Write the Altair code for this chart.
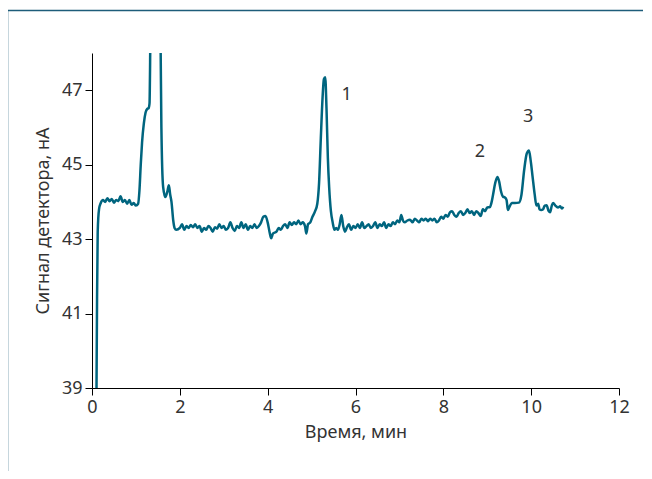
import altair as alt
import pandas as pd

# Chromatogram trace: time (min) and detector signal (nA)
time_min = [
    0.10, 0.115, 0.13, 0.16, 0.20, 0.25, 0.30, 0.35, 0.40, 0.45, 0.50, 0.55, 0.60, 0.65, 0.70,
    0.75, 0.80, 0.85, 0.90, 0.95, 1.00, 1.05, 1.08, 1.11, 1.14, 1.18, 1.22, 1.26, 1.29, 1.31,
    1.33, 1.36, 1.45, 1.53, 1.56, 1.58, 1.62, 1.67, 1.72, 1.75, 1.78, 1.81, 1.85, 1.88, 1.92,
    2.00, 2.05, 2.10, 2.15, 2.20, 2.25, 2.30, 2.35, 2.40, 2.45, 2.50, 2.55, 2.60, 2.65, 2.70,
    2.75, 2.80, 2.85, 2.90, 2.95, 3.00, 3.05, 3.10, 3.15, 3.20, 3.25, 3.30, 3.35, 3.40, 3.45,
    3.50, 3.55, 3.60, 3.65, 3.70, 3.75, 3.80, 3.85, 3.90, 3.95, 4.00, 4.05, 4.08, 4.12, 4.20,
    4.25, 4.30, 4.35, 4.40, 4.45, 4.50, 4.55, 4.60, 4.65, 4.70, 4.75, 4.80, 4.85, 4.88, 4.92,
    4.97, 5.02, 5.08, 5.13, 5.17, 5.21, 5.25, 5.28, 5.31, 5.34, 5.37, 5.40, 5.44, 5.48, 5.52,
    5.56, 5.60, 5.64, 5.68, 5.72, 5.76, 5.80, 5.85, 5.90, 5.95, 6.00, 6.05, 6.10, 6.15, 6.20,
    6.25, 6.30, 6.35, 6.40, 6.45, 6.50, 6.55, 6.60, 6.65, 6.70, 6.75, 6.80, 6.85, 6.90, 6.95,
    7.00, 7.04, 7.08, 7.12, 7.18, 7.24, 7.30, 7.35, 7.40, 7.45, 7.50, 7.55, 7.60, 7.65, 7.70,
    7.75, 7.80, 7.85, 7.90, 7.95, 8.00, 8.05, 8.10, 8.15, 8.20, 8.25, 8.30, 8.35, 8.40, 8.45,
    8.50, 8.55, 8.60, 8.65, 8.70, 8.75, 8.80, 8.85, 8.90, 8.95, 9.00, 9.06, 9.10, 9.13, 9.18,
    9.23, 9.27, 9.31, 9.36, 9.40, 9.44, 9.47, 9.50, 9.56, 9.63, 9.72, 9.78, 9.84, 9.90, 9.95,
    9.99, 10.03, 10.08, 10.12, 10.16, 10.19, 10.23, 10.27, 10.31, 10.35, 10.40, 10.43, 10.47, 10.50, 10.55,
    10.61, 10.66, 10.70, 10.73,
]
signal_na = [
    38.5, 41.4, 43.2, 43.8, 43.97, 44.05, 44.0, 44.1, 44.02, 44.08, 43.98, 44.05, 44.02, 44.15, 44.0,
    44.05, 43.95, 44.05, 43.92, 43.97, 43.9, 43.95, 44.3, 45.0, 45.6, 46.1, 46.4, 46.5, 46.52, 46.65,
    48.5, 51.0, 52.0, 51.0, 48.5, 46.0, 44.4, 44.13, 44.3, 44.45, 44.2, 44.0, 43.5, 43.3, 43.25,
    43.3, 43.4, 43.25, 43.35, 43.3, 43.38, 43.32, 43.4, 43.3, 43.35, 43.2, 43.3, 43.25, 43.35, 43.3,
    43.2, 43.32, 43.28, 43.4, 43.3, 43.35, 43.25, 43.3, 43.45, 43.3, 43.22, 43.35, 43.3, 43.45, 43.3,
    43.4, 43.25, 43.35, 43.3, 43.4, 43.3, 43.35, 43.45, 43.6, 43.62, 43.45, 43.15, 43.02, 43.15, 43.2,
    43.3, 43.25, 43.35, 43.4, 43.3, 43.45, 43.38, 43.45, 43.4, 43.5, 43.4, 43.45, 43.35, 43.15, 43.4,
    43.45, 43.6, 43.75, 43.95, 44.5, 45.7, 46.8, 47.3, 47.35, 46.5, 45.2, 44.4, 43.75, 43.45, 43.25,
    43.3, 43.25, 43.4, 43.65, 43.35, 43.2, 43.3, 43.4, 43.25, 43.35, 43.3, 43.4, 43.3, 43.45, 43.3,
    43.35, 43.4, 43.3, 43.35, 43.45, 43.3, 43.4, 43.35, 43.45, 43.3, 43.4, 43.35, 43.45, 43.4, 43.5,
    43.45, 43.65, 43.5, 43.45, 43.5, 43.52, 43.45, 43.55, 43.5, 43.45, 43.55, 43.5, 43.55, 43.48, 43.55,
    43.5, 43.55, 43.45, 43.5, 43.6, 43.55, 43.65, 43.6, 43.72, 43.75, 43.65, 43.6, 43.7, 43.75, 43.65,
    43.7, 43.8, 43.7, 43.75, 43.65, 43.75, 43.7, 43.62, 43.8, 43.75, 43.85, 43.86, 44.0, 44.18, 44.5,
    44.67, 44.55, 44.3, 44.14, 44.12, 44.05, 43.78, 43.85, 43.97, 43.97, 43.98, 44.2, 44.85, 45.3, 45.38,
    45.1, 44.7, 44.2, 43.9, 43.95, 43.8, 43.78, 43.8, 43.9, 43.91, 43.75, 43.72, 43.9, 43.97, 43.9,
    43.85, 43.88, 43.82, 43.87,
]

# Peak labels
peak_text = ["1", "2", "3"]
peak_time = [5.8, 8.83, 9.93]
peak_signal = [46.87, 45.34, 46.27]

x_ticks = [0, 2, 4, 6, 8, 10, 12]
y_ticks = [39, 41, 43, 45, 47]

FONT = "Noto Sans"
LINE_COLOR = "#00657f"
FRAME_COLOR = "#1d5c7a"

trace = pd.DataFrame({"t": time_min, "v": signal_na})
labels = pd.DataFrame({"t": peak_time, "v": peak_signal, "txt": peak_text})

x_enc = alt.X(
    "t:Q",
    scale=alt.Scale(domain=[0, 12], nice=False),
    axis=alt.Axis(values=x_ticks, title="Время, мин", format="d", labelFlush=False),
)
y_enc = alt.Y(
    "v:Q",
    scale=alt.Scale(domain=[39, 48], nice=False),
    axis=alt.Axis(values=y_ticks, title="Сигнал детектора, нА", format="d", labelFlush=False),
)

line = alt.Chart(trace).mark_line(
    color=LINE_COLOR, strokeWidth=2.5, clip=True, interpolate="monotone"
).encode(x=x_enc, y=y_enc)

text = alt.Chart(labels).mark_text(
    font=FONT, fontSize=18, color="#333333"
).encode(x="t:Q", y="v:Q", text="txt:N")

frame = alt.Chart(pd.DataFrame({"a": [0]})).mark_rect(
    filled=False, stroke=FRAME_COLOR, strokeWidth=1.5
).encode(
    x=alt.value(-84.5), x2=alt.value(800),
    y=alt.value(-42.5), y2=alt.value(800),
)

chart = alt.layer(frame, line, text).properties(
    width=527,
    height=335,
    autosize=alt.AutoSizeParams(type="none"),
    padding={"left": 84, "top": 45, "right": 24, "bottom": 83},
).configure_view(stroke=None).configure_axis(
    grid=False,
    domainColor="#000000",
    domainWidth=1,
    tickColor="#000000",
    tickSize=7,
    labelFont=FONT,
    labelFontSize=18,
    labelColor="#333333",
    labelPadding=3,
    labelOverlap=False,
    titleFont=FONT,
    titleFontSize=18,
    titleFontWeight="normal",
    titleColor="#333333",
).configure_axisX(titlePadding=7).configure_axisY(titlePadding=9)

chart.save("out.html", embed_options={"renderer": "svg", "actions": False})
